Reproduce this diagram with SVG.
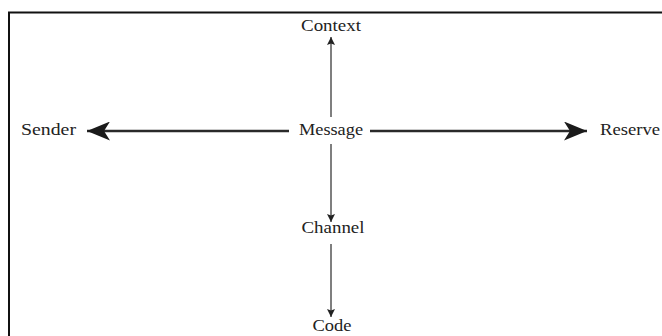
<svg xmlns="http://www.w3.org/2000/svg" width="662" height="336" viewBox="0 0 662 336">
<style>
.lbl{font-family:"Liberation Serif","Times New Roman",serif;font-size:17px;fill:#222;text-anchor:middle}
.h{stroke:#2a2a2a;stroke-width:2.5;fill:none}
.v{stroke:#555;stroke-width:1.5;fill:none}
</style>
<defs>
<marker id="big" viewBox="0 0 23 19" refX="23" refY="9.5" markerWidth="23" markerHeight="19" markerUnits="userSpaceOnUse" orient="auto">
<path d="M0,0 L23,9.5 L0,19 L6,9.5 Z" fill="#1a1a1a"/>
</marker>
<marker id="small" viewBox="0 0 8 8" refX="8" refY="4" markerWidth="9" markerHeight="8" markerUnits="userSpaceOnUse" orient="auto">
<path d="M0,0 L8,4 L0,8 L1.5,4 Z" fill="#222"/>
</marker>
</defs>
<rect width="662" height="336" fill="#fff"/>
<rect x="9" y="12.5" width="700" height="400" fill="none" stroke="#111" stroke-width="2"/>
<g id="connectors">
<line class="h" x1="289" y1="131" x2="87" y2="131" marker-end="url(#big)"/>
<line class="h" x1="370" y1="131" x2="587" y2="131" marker-end="url(#big)"/>
<line class="v" x1="331" y1="117" x2="331" y2="37" marker-end="url(#small)"/>
<line class="v" x1="331" y1="144" x2="331" y2="222" marker-end="url(#small)"/>
<line class="v" x1="331" y1="244" x2="331" y2="317" marker-end="url(#small)"/>
</g>
<g id="context"><text class="lbl" x="331" y="31" textLength="60" lengthAdjust="spacingAndGlyphs">Context</text></g>
<g id="message"><text class="lbl" x="331" y="135" textLength="64" lengthAdjust="spacingAndGlyphs">Message</text></g>
<g id="sender"><text class="lbl" x="48.5" y="135" textLength="55" lengthAdjust="spacingAndGlyphs">Sender</text></g>
<g id="reserve"><text class="lbl" x="630" y="135" textLength="60" lengthAdjust="spacingAndGlyphs">Reserve</text></g>
<g id="channel"><text class="lbl" x="333" y="233" textLength="63" lengthAdjust="spacingAndGlyphs">Channel</text></g>
<g id="code"><text class="lbl" x="332" y="331" textLength="39" lengthAdjust="spacingAndGlyphs">Code</text></g>
</svg>
